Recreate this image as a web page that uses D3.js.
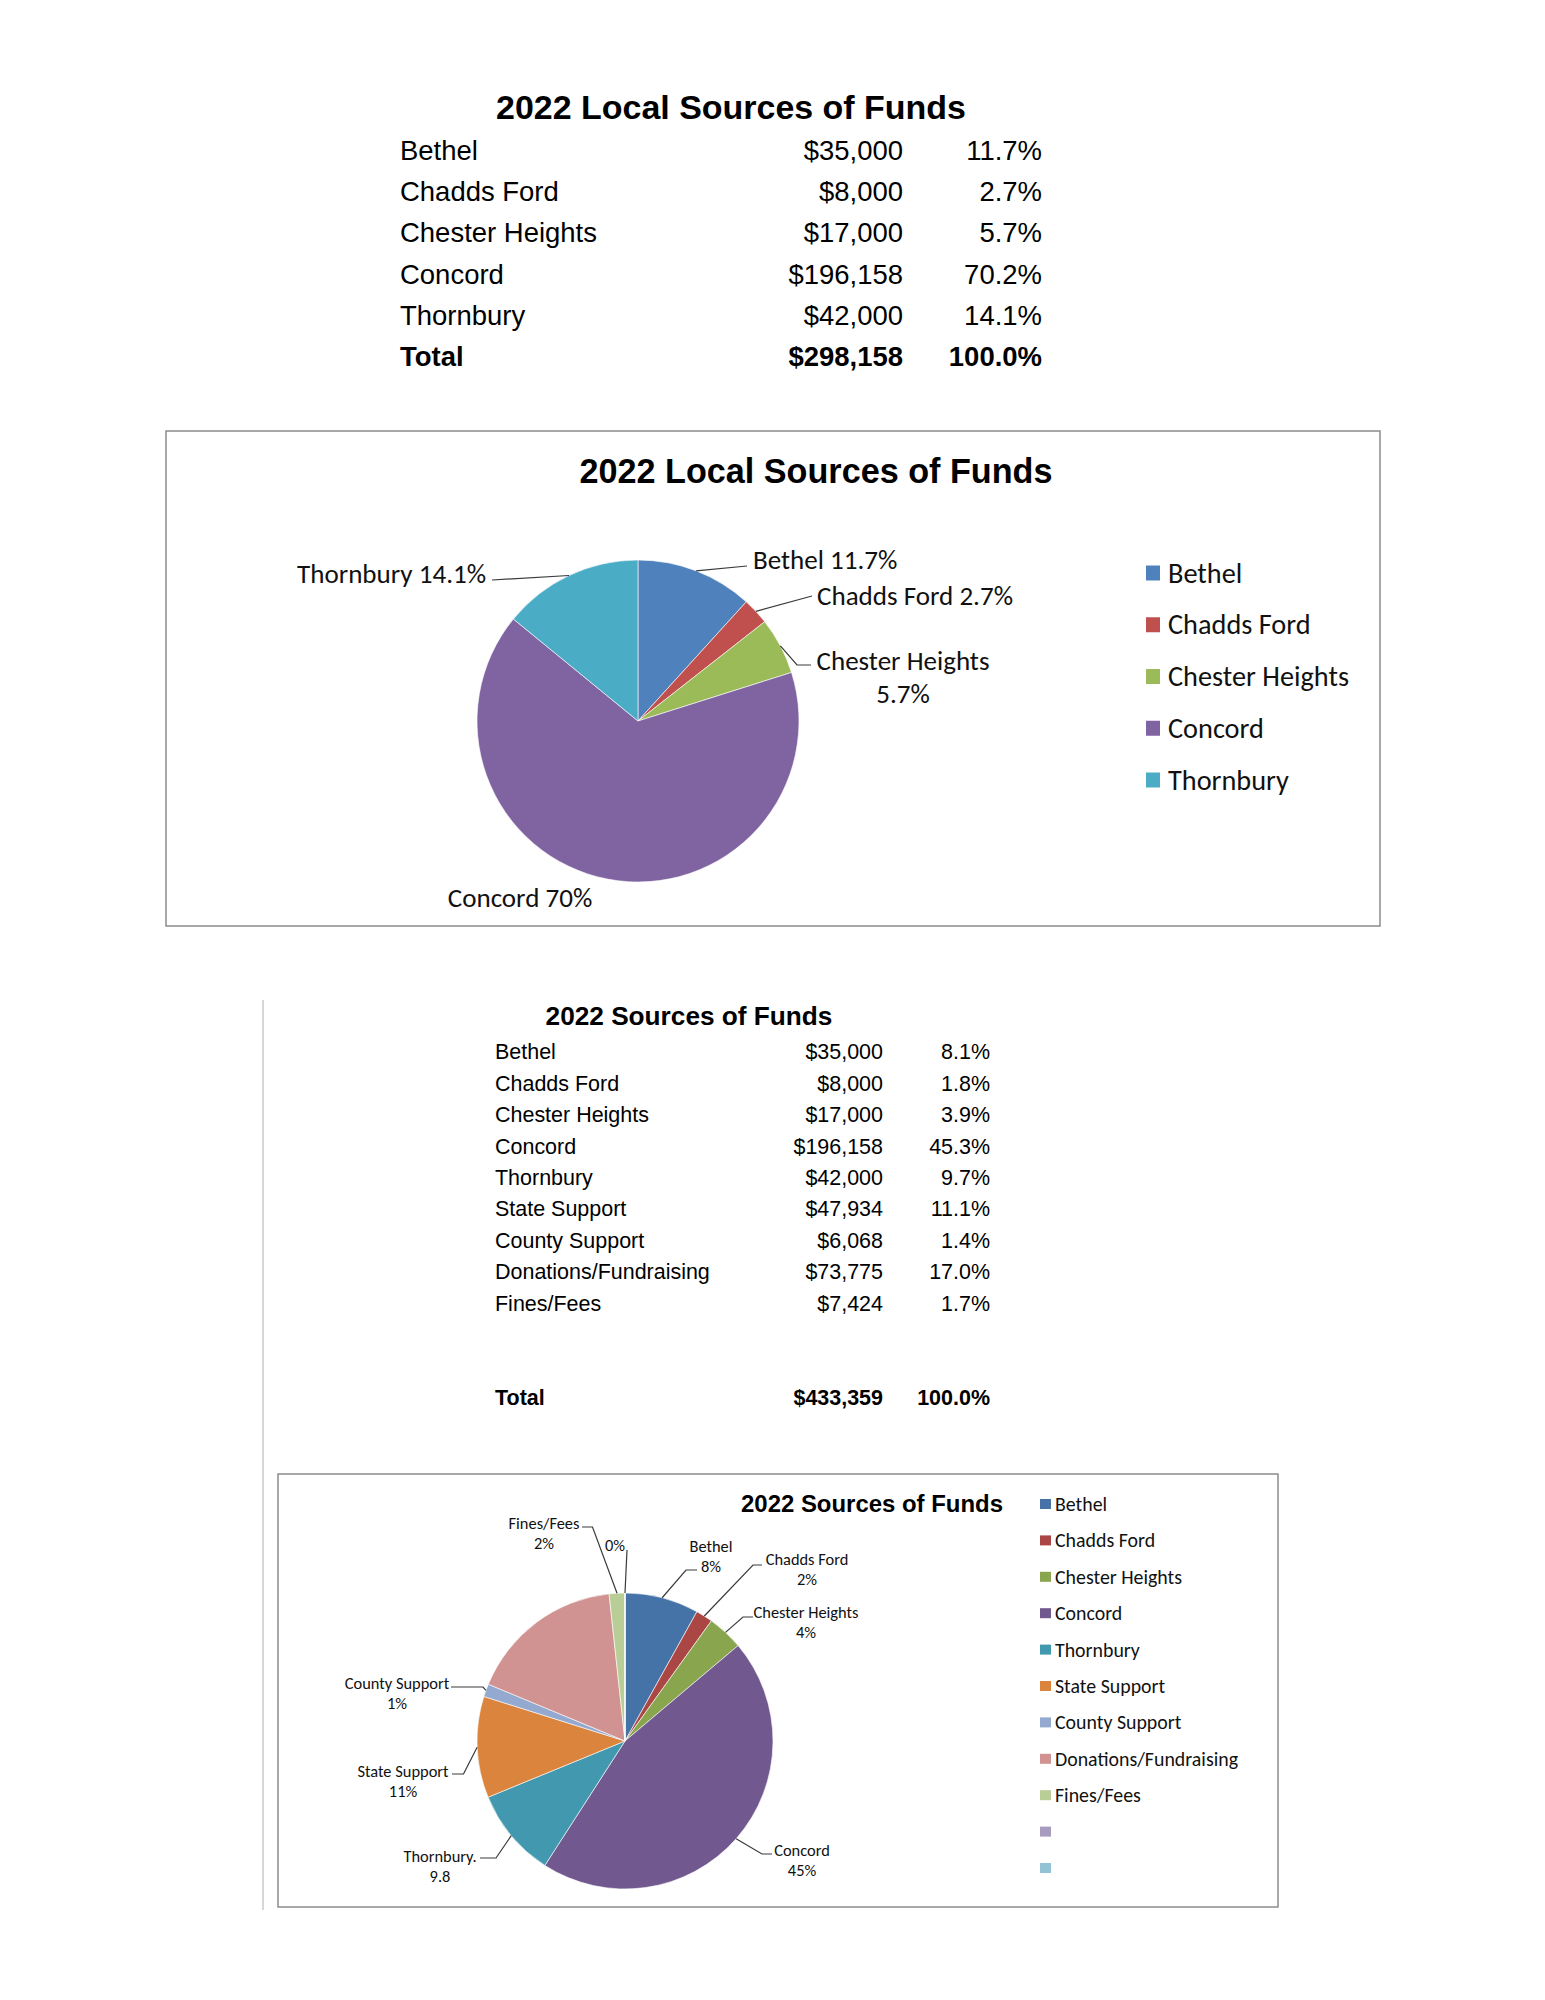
<!DOCTYPE html>
<html><head><meta charset="utf-8">
<script src="https://cdn.jsdelivr.net/npm/d3@7"></script>
<style>html,body{margin:0;padding:0;background:#fff;} svg{display:block}</style>
</head><body><svg id="c" width="1545" height="2000"></svg>
<script>
// ---------- DATA ----------
const localTitle = "2022 Local Sources of Funds";
const localCategories = ["Bethel","Chadds Ford","Chester Heights","Concord","Thornbury"];
const localValues = [35000,8000,17000,196158,42000];
const localPercents = ["11.7%","2.7%","5.7%","70.2%","14.1%"];
const localTotalValue = 298158;
const localTotalPercent = "100.0%";
const localPieLabels = [["Bethel 11.7%"],["Chadds Ford 2.7%"],["Chester Heights","5.7%"],["Concord 70%"],["Thornbury 14.1%"]];

const allTitle = "2022 Sources of Funds";
const allCategories = ["Bethel","Chadds Ford","Chester Heights","Concord","Thornbury","State Support","County Support","Donations/Fundraising","Fines/Fees"];
const allValues = [35000,8000,17000,196158,42000,47934,6068,73775,7424];
const allPercents = ["8.1%","1.8%","3.9%","45.3%","9.7%","11.1%","1.4%","17.0%","1.7%"];
const allTotalValue = 433359;
const allTotalPercent = "100.0%";
// pie/legend series include two empty categories with zero value
const pie2Categories = allCategories.concat(["",""]);
const pie2Values = allValues.concat([0,0]);
const pie2Labels = [["Bethel","8%"],["Chadds Ford","2%"],["Chester Heights","4%"],["Concord","45%"],["Thornbury.","9.8"],["State Support","11%"],["County Support","1%"],[],["Fines/Fees","2%"],["0%"],[]];

// ---------- STYLE / LAYOUT ----------
const colors1 = ["#4F81BD","#C0504D","#9BBB59","#8064A2","#4BACC6"];
const colors2 = ["#4572A7","#AA4643","#89A54E","#71588F","#4198AF","#DB843D","#93A9CF","#D19392","#B9CD96","#A99BBD","#91C3D5"];
const TF = "'Liberation Sans', Arial, sans-serif";
const CF = "Carlito, Lato, sans-serif";

const cvs = document.createElement("canvas").getContext("2d");
function fit(text, family, weight, target){
  cvs.font = weight + " 100px " + family;
  return 100*target/cvs.measureText(text).width;
}

const svg = d3.select("#c");
const fmt = d3.format("$,");

// ---------- TABLE 1 ----------
(function(){
  const g = svg.append("g");
  const ts = fit(localTitle, TF, "bold", 470);
  g.append("text").attr("x",731).attr("y",119).attr("text-anchor","middle")
    .attr("font-family",TF).attr("font-weight","bold").attr("font-size",ts).text(localTitle);
  const fs = fit("Chester Heights", TF, "normal", 197);
  const y = d3.scalePoint().domain(d3.range(localCategories.length+1)).range([160,366]);
  const rows = localCategories.map((c,i)=>({c, v:fmt(localValues[i]), p:localPercents[i], b:false}))
    .concat([{c:"Total", v:fmt(localTotalValue), p:localTotalPercent, b:true}]);
  rows.forEach((r,i)=>{
    const t = (x,anchor,s)=>g.append("text").attr("x",x).attr("y",y(i)).attr("text-anchor",anchor)
      .attr("font-family",TF).attr("font-size",fs).attr("font-weight",r.b?"bold":"normal").attr("fill","#000").text(s);
    t(400,"start",r.c); t(903,"end",r.v); t(1042,"end",r.p);
  });
})();

// ---------- PIE helper ----------
function drawPie(opt){
  const g = svg.append("g");
  g.append("rect").attr("x",opt.box[0]).attr("y",opt.box[1]).attr("width",opt.box[2]).attr("height",opt.box[3])
    .attr("fill","#fff").attr("stroke","#8c8c8c").attr("stroke-width",1.5);
  g.append("text").attr("x",opt.titleX).attr("y",opt.titleY).attr("text-anchor","middle")
    .attr("font-family",TF).attr("font-weight","bold").attr("font-size",fit(opt.title,TF,"bold",opt.titleW))
    .attr("fill","#000").text(opt.title);
  const pie = d3.pie().sort(null).value(d=>d);
  const arcs = pie(opt.values);
  const arc = d3.arc().innerRadius(0).outerRadius(opt.r);
  const pg = g.append("g").attr("transform",`translate(${opt.cx},${opt.cy})`);
  pg.selectAll("path").data(arcs).join("path").attr("d",arc)
    .attr("fill",(d,i)=>opt.colors[i]).attr("stroke","#fff").attr("stroke-width",0.6);
  const lfs = fit(opt.labelRef[0], CF, "normal", opt.labelRef[1]);
  arcs.forEach((a,i)=>{
    const L = opt.layout[i]; const lines = opt.labels[i];
    if(!L || !lines || !lines.length) return;
    const m = (a.startAngle+a.endAngle)/2;
    const ex = opt.r*Math.sin(m), ey = -opt.r*Math.cos(m);
    if(L.lead){
      const pts = [[ex,ey]].concat(L.lead);
      pg.append("path").attr("d",d3.line()(pts)).attr("fill","none").attr("stroke","#3a3a3a").attr("stroke-width",1.2);
    }
    const t = pg.append("text").attr("x",L.x).attr("y",L.y).attr("text-anchor",L.anchor||"middle")
      .attr("font-family",CF).attr("font-size",lfs).attr("fill","#111");
    lines.forEach((s,k)=>t.append("tspan").attr("x",L.x).attr("y",L.y+k*opt.lineH).attr("dominant-baseline","central").text(s));
  });
  // legend
  const lgfs = fit(opt.legendRef[0], CF, "normal", opt.legendRef[1]);
  const ly = d3.scalePoint().domain(d3.range(opt.categories.length)).range(opt.legendY);
  opt.categories.forEach((c,i)=>{
    g.append("rect").attr("x",opt.legendX).attr("y",ly(i)-opt.sq[1]/2).attr("width",opt.sq[0]).attr("height",opt.sq[1]).attr("fill",opt.colors[i]);
    g.append("text").attr("x",opt.legendX+opt.textGap).attr("y",ly(i)).attr("dominant-baseline","central")
      .attr("font-family",CF).attr("font-size",lgfs).attr("fill","#111").text(c);
  });
}

drawPie({
  box:[166,431,1214,495], title:localTitle, titleX:816, titleY:483, titleW:473,
  values:localValues, categories:localCategories, colors:colors1, labels:localPieLabels,
  cx:638, cy:721, r:161, lineH:33, labelRef:["Chester Heights",173],
  layout:[
    {x:115,y:-162,anchor:"start",lead:[[109,-155]]},
    {x:179,y:-126,anchor:"start",lead:[[174,-125]]},
    {x:265,y:-61,anchor:"middle",lead:[[159,-56],[173,-56]]},
    {x:-118,y:176,anchor:"middle"},
    {x:-152,y:-148,anchor:"end",lead:[[-146,-141]]}
  ],
  legendX:1146, legendY:[573,780], sq:[14,15], textGap:22, legendRef:["Chester Heights",181]
});

// ---------- TABLE 2 ----------
(function(){
  const g = svg.append("g");
  g.append("line").attr("x1",263).attr("x2",263).attr("y1",1000).attr("y2",1910).attr("stroke","#bdbdbd").attr("stroke-width",1.2);
  g.append("text").attr("x",689).attr("y",1025).attr("text-anchor","middle")
    .attr("font-family",TF).attr("font-weight","bold").attr("font-size",fit(allTitle,TF,"bold",287)).text(allTitle);
  const fs = fit("Donations/Fundraising", TF, "normal", 215);
  const off = fs*0.716/2;
  const y = d3.scalePoint().domain(d3.range(allCategories.length)).range([1051.7,1303]);
  const put = (yy,r)=>{
    const t = (x,anchor,s)=>g.append("text").attr("x",x).attr("y",yy+off).attr("text-anchor",anchor)
      .attr("font-family",TF).attr("font-size",fs).attr("font-weight",r.b?"bold":"normal").attr("fill","#000").text(s);
    t(495,"start",r.c); t(883,"end",r.v); t(990,"end",r.p);
  };
  allCategories.forEach((c,i)=>put(y(i),{c, v:fmt(allValues[i]), p:allPercents[i], b:false}));
  put(1397,{c:"Total", v:fmt(allTotalValue), p:allTotalPercent, b:true});
})();

drawPie({
  box:[278,1474,1000,433], title:allTitle, titleX:872, titleY:1512, titleW:262,
  values:pie2Values, categories:pie2Categories, colors:colors2, labels:pie2Labels,
  cx:625, cy:1741, r:148, lineH:20, labelRef:["Chester Heights",105],
  layout:[
    {x:86,y:-195,lead:[[61,-171],[72,-171]]},
    {x:182,y:-182,lead:[[128,-176],[137,-176]]},
    {x:181,y:-129,lead:[[118,-124],[128,-124]]},
    {x:177,y:109,lead:[[137,113],[147,113]]},
    {x:-185,y:115,lead:[[-129,117],[-145,117]]},
    {x:-222,y:30,lead:[[-161.5,33],[-173,33]]},
    {x:-228,y:-58,lead:[[-142,-54],[-174,-54]]},
    null,
    {x:-81,y:-218,lead:[[-32.5,-214],[-43,-214]]},
    {x:-10,y:-196,lead:[[2,-191]]},
    null
  ],
  legendX:1040, legendY:[1504,1868], sq:[11,10], textGap:15, legendRef:["Donations/Fundraising",183]
});
</script></body></html>
